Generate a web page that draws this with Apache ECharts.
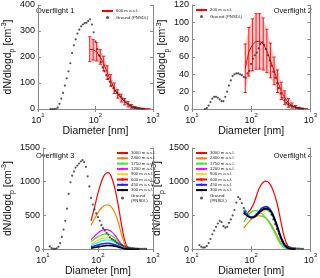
<!DOCTYPE html>
<html><head><meta charset="utf-8">
<script src="https://cdn.jsdelivr.net/npm/echarts@6/dist/echarts.min.js"></script>
<style>html,body{margin:0;padding:0;background:#fff}#c{width:320px;height:278px}</style>
</head><body><div id="c"></div>
<script>
// Ground PNSD diameters (nm)
const dp = [13.34,14.33,15.40,16.55,17.78,19.11,20.54,22.07,23.71,25.48,27.38,29.43,31.62,33.98,36.52,39.24,42.17,45.32,48.70,52.33,56.23,60.43,64.94,69.78,74.99,80.58,86.60,93.06,100,107.5,115.5,124.1,133.4,143.3,154.0,165.5,177.8,191.1,205.4,220.7,237.1,254.8,273.8,294.3,316.2,339.8,365.2,392.4,421.7,453.2,487.0,523.3,562.3,604.3,649.4,697.8,749.9];
const ground1 = [null,null,null,0,0,0,1,5,20,40,62,90,118,145,176,215,245,268,290,305,318,325,330,332,338,345,325,295,260,230,205,180,160,145,130,115,105,90,80,70,62,55,48,40,33,26,20,14,9,6,4,3,2,2,1,1,null];
const ground2 = [null,null,null,0,1,4,8,12,14,14,13,11,9,9,14,20,27,33,38,40,41,41,40,39,37,36,41,44,52,58,62,65,70,75,77,74,69,62,56,50,43,36,30,24,18,13,10,7,5.5,4,3.5,2.5,2,1,0.8,0.5,0.3];
const ground3 = [40,15,5,3,10,35,90,180,290,420,600,820,990,1090,1150,1210,1240,1270,1300,1320,1290,1220,1080,930,760,660,590,530,475,420,355,310,275,240,215,175,150,135,115,95,80,70,58,45,35,27,22,17,13,10,8,6,5,4,3,3,2];
const ground4 = [60,35,22,25,45,90,150,220,275,330,380,420,400,340,320,330,390,440,500,580,690,770,740,680,610,560,515,480,470,475,495,520,540,565,585,600,600,590,565,510,440,370,300,230,165,115,75,50,35,25,20,15,12,9,7,5,4];

// Airborne mean with error bars (overflights 1 and 2)
const eb = [79.4,91.3,105,121,139,160,184,212,244,280,322,370,426,490,563,648,745,857];
const p1Mean = [230,228,220,200,175,140,110,80,58,42,28,18,10,5,2,1,0,0];
const p1Err  = [48,40,35,28,28,26,22,20,16,15,12,10,7,5,3,2,1,0];
const p2Mean = [47,66,74,78,78,75,67,56,44,32,21,13,7,4,2,1,0.5,0.2];
const p2Err  = [28,28,30,32,32,30,25,20,16,13,10,8,5,3,2,1,0.5,0];

// Fitted airborne size distributions (overflights 3 and 4)
const dl = [75,86.6,100,115.5,133.4,154,177.8,205.4,237.1,273.8,316.2,365.2,421.7,487,562.3];
const levels = ['3000 m a.s.l.','2400 m a.s.l.','1750 m a.s.l.','1200 m a.s.l.','900 m a.s.l.','600 m a.s.l.','450 m a.s.l.','300 m a.s.l.'];
const p3_3000 = [420,620,830,1000,1110,1135,1060,880,620,320,90,10,2,0,0];
const p3_2400 = [355,450,540,610,650,655,620,530,380,190,55,8,1,0,0];
const p3_1750 = [110,150,185,210,222,220,200,160,105,50,12,2,0,0,0];
const p3_1200 = [140,190,240,275,290,285,255,200,130,60,15,2,0,0,0];
const p3_900  = [70,100,130,155,168,168,155,125,82,40,10,1,0,0,0];
const p3_600  = [50,75,100,120,132,135,125,100,65,30,8,1,0,0,0];
const p3_450  = [30,45,60,75,84,86,80,64,42,20,6,1,0,0,0];
const p3_300  = [15,24,33,42,50,54,52,43,29,14,4,1,0,0,0];
const p4_3000 = [520,540,600,720,880,980,1010,970,860,680,420,170,40,8,1];
const p4_2400 = [310,380,440,480,495,490,460,400,310,200,100,35,8,1,0];
const p4_1750 = [400,490,550,570,560,520,460,380,280,170,75,20,3,0,0];
const p4_1200 = [580,510,475,485,530,575,590,565,470,320,160,50,10,1,0];
const p4_900  = [570,505,470,480,520,560,575,550,460,315,155,48,9,1,0];
const p4_600  = [620,530,480,490,535,580,590,560,460,310,150,45,8,1,0];
const p4_450  = [560,500,470,490,550,610,630,600,500,340,170,55,10,1,0];
const p4_300  = [540,490,465,480,530,580,600,580,490,350,190,70,15,2,0];

const yMax = [400,120,1500,1500];
const yStep = [100,20,500,500];
const panelTitles = ['Overflight 1','Overflight 2','Overflight 3','Overflight 4'];

const lineColors = ['#ff0000','#ff8000','#33ee33','#ff00ff','#ffd400','#00ffff','#2020ff','#000000'];
const lineWidths = [1.2,1.2,1.2,1.2,1.2,1.2,1.6,1.6];

const FONT = 'Liberation Sans, Arial, sans-serif';
const grids = [
  {left:33, top:5, width:120, height:104},
  {left:192, top:5, width:121, height:104},
  {left:33, top:148, width:120, height:107},
  {left:192, top:148, width:121, height:107}
];
const axisCol = '#8a8a8a';
const xAxes = [], yAxes = [];
for (let i=0;i<4;i++){
  xAxes.push({type:'log', logBase:10, gridIndex:i, min:10, max:1000,
    name:'Diameter [nm]', nameLocation:'middle', nameGap:13,
    nameTextStyle:{fontSize:10.5, color:'#111', fontFamily:FONT},
    axisLine:{show:true, lineStyle:{color:axisCol, width:1}},
    axisTick:{show:true, inside:true, length:3, lineStyle:{color:axisCol}},
    splitLine:{show:false},
    axisLabel:{margin:3, color:'#111', fontFamily:FONT,
      formatter:function(v){return '{b|10}{s|'+Math.round(Math.log10(v))+'}';},
      rich:{b:{fontSize:9, lineHeight:13, verticalAlign:'bottom', fontFamily:FONT, color:'#111'},
            s:{fontSize:6, verticalAlign:'top', fontFamily:FONT, color:'#111'}}}
  });
  yAxes.push({type:'value', gridIndex:i, min:0, max:yMax[i], interval:yStep[i],
    name:'{a|dN/dlogd}{sub|p}{a| [cm}{sup|-3}{a|]}', nameLocation:'middle', nameRotate:90, nameGap:17,
    nameTextStyle:{rich:{
      a:{fontSize:10.5, lineHeight:15, verticalAlign:'middle', fontFamily:FONT, color:'#111'},
      sub:{fontSize:7, verticalAlign:'bottom', fontFamily:FONT, color:'#111'},
      sup:{fontSize:7, verticalAlign:'top', fontFamily:FONT, color:'#111'}}},
    axisLine:{show:true, lineStyle:{color:axisCol, width:1}},
    axisTick:{show:true, inside:true, length:3, lineStyle:{color:axisCol}},
    splitLine:{show:false},
    axisLabel:{margin:3, fontSize:9, color:'#111', fontFamily:FONT, formatter:function(v){return String(v);}}
  });
}
for (let i=0;i<4;i++){
  xAxes.push({type:'log', logBase:10, gridIndex:i, min:10, max:1000, position:'top',
    axisLine:{show:true, lineStyle:{color:axisCol}}, axisTick:{show:true, inside:true, length:3, lineStyle:{color:axisCol}},
    axisLabel:{show:false}, splitLine:{show:false}});
  yAxes.push({type:'value', gridIndex:i, min:0, max:yMax[i], interval:yStep[i], position:'right',
    axisLine:{show:true, lineStyle:{color:axisCol}}, axisTick:{show:true, inside:true, length:3, lineStyle:{color:axisCol}},
    axisLabel:{show:false}, splitLine:{show:false}});
}

function bandData(m, e){
  const out=[];
  for (let i=0;i<eb.length-1;i++) out.push([eb[i], m[i]-e[i], m[i]+e[i], eb[i+1], m[i+1]-e[i+1], m[i+1]+e[i+1]]);
  return out;
}
function bandRender(params, api){
  const p = [api.coord([api.value(0), api.value(1)]), api.coord([api.value(0), api.value(2)]),
             api.coord([api.value(3), api.value(5)]), api.coord([api.value(3), api.value(4)])];
  return {type:'polygon', shape:{points:p}, style:{fill:'rgba(255,60,60,0.28)'}};
}
function errData(m, e){ return eb.map((d,i)=>[d, m[i], e[i]]); }
function errRender(params, api){
  const x=api.value(0), y=api.value(1), e=api.value(2);
  const t = api.coord([x, y+e]), b = api.coord([x, y-e]);
  const w = 1.6, st = {stroke:'#ff0000', lineWidth:0.9};
  return {type:'group', children:[
    {type:'line', shape:{x1:t[0], y1:t[1], x2:b[0], y2:b[1]}, style:st},
    {type:'line', shape:{x1:t[0]-w, y1:t[1], x2:t[0]+w, y2:t[1]}, style:st},
    {type:'line', shape:{x1:b[0]-w, y1:b[1], x2:b[0]+w, y2:b[1]}, style:st}
  ]};
}
function pairs(xs, ys){ return xs.map((x,i)=>[x, ys[i]]).filter(p=>p[1]!==null); }

const series = [];
function groundSeries(name, idx, vals){
  series.push({name:name, type:'scatter', xAxisIndex:idx, yAxisIndex:idx, data:pairs(dp, vals),
    symbol:'circle', symbolSize:2.2, itemStyle:{color:'#2a2a2a'}, z:10, silent:true});
}
// panel 1
series.push({type:'custom', xAxisIndex:0, yAxisIndex:0, data:bandData(p1Mean,p1Err), renderItem:bandRender, clip:true, z:2, silent:true});
series.push({type:'custom', xAxisIndex:0, yAxisIndex:0, data:errData(p1Mean,p1Err), renderItem:errRender, clip:true, z:3, silent:true});
series.push({name:'600 m a.s.l.', type:'line', xAxisIndex:0, yAxisIndex:0, data:pairs(eb,p1Mean), symbol:'none', lineStyle:{color:'#ff0000', width:1}, itemStyle:{color:'#ff0000'}, z:4});
groundSeries('g1', 0, ground1);
// panel 2
series.push({type:'custom', xAxisIndex:1, yAxisIndex:1, data:bandData(p2Mean,p2Err), renderItem:bandRender, clip:true, z:2, silent:true});
series.push({type:'custom', xAxisIndex:1, yAxisIndex:1, data:errData(p2Mean,p2Err), renderItem:errRender, clip:true, z:3, silent:true});
series.push({name:'200 m a.s.l.', type:'line', xAxisIndex:1, yAxisIndex:1, data:pairs(eb,p2Mean), symbol:'none', lineStyle:{color:'#ff0000', width:1}, itemStyle:{color:'#ff0000'}, z:4});
groundSeries('g2', 1, ground2);
// panels 3 and 4
const p3 = [p3_3000,p3_2400,p3_1750,p3_1200,p3_900,p3_600,p3_450,p3_300];
const p4 = [p4_3000,p4_2400,p4_1750,p4_1200,p4_900,p4_600,p4_450,p4_300];
[[p3,2],[p4,3]].forEach(([set, idx])=>{
  set.forEach((vals, j)=>{
    series.push({name:levels[j], type:'line', xAxisIndex:idx, yAxisIndex:idx, data:pairs(dl, vals), symbol:'none', smooth:0.4,
      lineStyle:{color:lineColors[j], width:lineWidths[j]}, itemStyle:{color:lineColors[j]}, z:5+ (set===p4 ? j : 0)});
  });
});
groundSeries('g3', 2, ground3);
groundSeries('g4', 3, ground4);

const legRich = {t:{fontSize:4.3, fontFamily:FONT, color:'#222', lineHeight:5}, s:{fontSize:3.2, fontFamily:FONT, color:'#222', verticalAlign:'bottom'}};
function legFmt(n){
  if (n==='g1' || n==='g2') return '{t|Ground (PNSD}{s|L}{t|)}';
  if (n==='g3' || n==='g4') return '{t|Ground}\n{t|(PNSD}{s|L}{t|)}';
  return '{t|'+n+'}';
}
function mkLegend(left, top, names, gap){
  return {left:left, top:top, orient:'vertical', itemWidth:11, itemHeight:3, itemGap:gap, padding:0,
    selectedMode:false, formatter:legFmt, textStyle:{rich:legRich, padding:[0,0,0,-2]},
    data:names.map(n=>(n[0]==='g' ? {name:n, icon:'circle'} : {name:n}))};
}
const legends = [
  mkLegend(101, 9, ['600 m a.s.l.','g1'], 2.5),
  mkLegend(195, 8, ['200 m a.s.l.','g2'], 2.5),
  mkLegend(116, 151, levels.concat(['g3']), 1.3),
  mkLegend(195, 151, levels.concat(['g4']), 1.3)
];

const titleGraphics = [
  {type:'text', left:36, top:7, style:{text:panelTitles[0], fontSize:7.5, fontFamily:FONT, fill:'#111'}},
  {type:'text', right:8, top:7, style:{text:panelTitles[1], fontSize:7.5, fontFamily:FONT, fill:'#111'}},
  {type:'text', left:36, top:152, style:{text:panelTitles[2], fontSize:7.5, fontFamily:FONT, fill:'#111'}},
  {type:'text', right:8, top:152, style:{text:panelTitles[3], fontSize:7.5, fontFamily:FONT, fill:'#111'}}
];

const chart = echarts.init(document.getElementById('c'), null, {renderer:'canvas'});
chart.setOption({
  animation:false,
  backgroundColor:'#fff',
  textStyle:{fontFamily:FONT},
  grid:grids,
  xAxis:xAxes,
  yAxis:yAxes,
  legend:legends,
  graphic:titleGraphics,
  series:series
});
</script>
</body></html>
